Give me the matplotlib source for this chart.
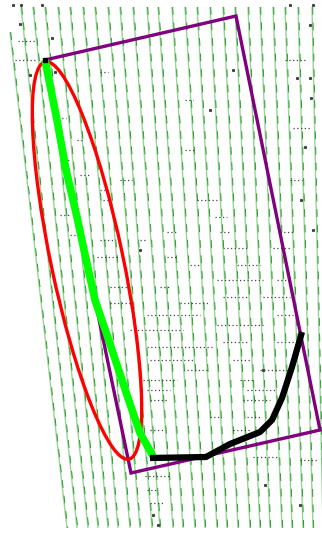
import matplotlib
matplotlib.use("Agg")
import matplotlib.pyplot as plt
from matplotlib.patches import Ellipse, Polygon

# ---- data (image pixel coordinates, y downward) ----
track_top_x = [10, 21, 33, 45, 58, 70, 83, 95, 108, 120, 133, 147, 158,
               172, 185, 197, 210, 223, 235, 248, 260, 273, 285, 298, 312]
track_top_y = [32, 7, 7, 7, 7, 7, 7, 7, 7, 7, 7, 7, 7,
               7, 7, 7, 7, 7, 7, 7, 7, 7, 7, 7, 7]
track_bottom_x = [67, 77, 88, 98, 108, 118, 130, 140, 152, 160, 173, 183, 195,
                  205, 217, 227, 238, 250, 260, 270, 282, 292, 303, 313, 323]
track_bottom_y = 528

boundary_x = [45, 236, 320, 131]
boundary_y = [60, 16, 430, 473]

ellipse_center = (87, 260.5)
ellipse_minor = 72
ellipse_major = 406
ellipse_angle = -11.9

axis_x = [45, 51, 57, 66, 77, 84, 95, 107, 118, 129, 140, 153]
axis_y = [60, 90, 120, 170, 217, 250, 300, 335, 368, 401, 433, 456]

path_x = [150, 206, 230, 260, 272, 282, 292, 302]
path_y = [458, 457, 444, 432, 420, 398, 367, 332]

# dotted rows of survey points: (y, x_start, x_end)
dot_rows = [
    (200, 197, 217), (200, 103, 110), (217, 215, 227), (232, 220, 230),
    (232, 280, 293), (232, 167, 177), (240, 100, 113), (240, 140, 147),
    (248, 223, 247), (248, 273, 290), (257, 97, 117), (257, 167, 177),
    (265, 190, 200), (265, 237, 260), (280, 217, 263), (280, 277, 290),
    (287, 110, 127), (287, 160, 170), (297, 223, 247), (297, 263, 290),
    (303, 110, 130), (303, 180, 210), (315, 147, 200), (315, 277, 293),
    (325, 217, 263), (330, 130, 183), (342, 223, 247), (342, 277, 297),
    (347, 147, 213), (360, 150, 193), (360, 233, 250), (370, 260, 287),
    (370, 187, 207), (380, 143, 177), (380, 240, 253), (390, 147, 170),
    (390, 247, 277), (400, 243, 270), (400, 150, 167), (417, 210, 220),
    (417, 247, 260), (430, 150, 163), (430, 233, 250), (457, 253, 277),
    (41, 18, 36), (60, 15, 35), (72, 100, 108), (118, 58, 66),
    (140, 77, 84), (160, 60, 70), (175, 80, 90), (190, 100, 108),
    (150, 185, 195), (100, 185, 193), (60, 285, 305), (128, 293, 310),
    (180, 290, 302), (180, 120, 132), (476, 145, 170), (490, 147, 158),
    (503, 150, 165), (460, 300, 318), (215, 60, 70), (235, 70, 80),
]
dot_x = [13, 21, 42, 20, 52, 30, 55, 310, 313, 290, 310, 297, 305, 301,
         311, 233, 210, 140, 263, 313, 153, 158, 265, 300]
dot_y = [5, 5, 5, 24, 38, 75, 72, 25, 5, 5, 78, 78, 147, 200,
         98, 70, 110, 250, 370, 230, 515, 525, 485, 505]

# ---- drawing ----
fig = plt.figure(figsize=(3.22, 5.33), dpi=100)
ax = fig.add_axes([0, 0, 1, 1])
ax.set_xlim(0, 322)
ax.set_ylim(533, 0)
ax.axis("off")
fig.patch.set_facecolor("white")

for xt, yt, xb in zip(track_top_x, track_top_y, track_bottom_x):
    ax.plot([xt, xb], [yt, track_bottom_y], color="#98d498", lw=1.0,
            solid_capstyle="butt", zorder=1)
    ax.plot([xt + 0.7, xb + 0.7], [yt, track_bottom_y], color="#2f9a2f",
            lw=0.7, linestyle=(0, (8, 8)), zorder=1.1)

for y, x0, x1 in dot_rows:
    ax.plot([x0, x1], [y, y], color="#444444", lw=0.9,
            linestyle=(0, (1, 2)), zorder=2)
ax.plot(dot_x, dot_y, linestyle="none", marker="s", ms=1.2,
        color="#444444", zorder=2)

ax.add_patch(Polygon(list(zip(boundary_x, boundary_y)), closed=True,
                     fill=False, edgecolor="#800080", lw=2.4, zorder=3))
ax.add_patch(Ellipse(ellipse_center, ellipse_minor, ellipse_major,
                     angle=ellipse_angle, fill=False, edgecolor="#ff0000",
                     lw=2.4, zorder=4))
ax.plot(axis_x, axis_y, color="#00ff00", lw=5.5, solid_capstyle="butt",
        zorder=5)
ax.plot(path_x, path_y, color="#000000", lw=4.5, solid_joinstyle="round",
        solid_capstyle="butt", zorder=6)
ax.plot([boundary_x[0]], [boundary_y[0]], marker="s", ms=3, color="black",
        zorder=7)

fig.savefig("out.png", dpi=100, facecolor="white")
